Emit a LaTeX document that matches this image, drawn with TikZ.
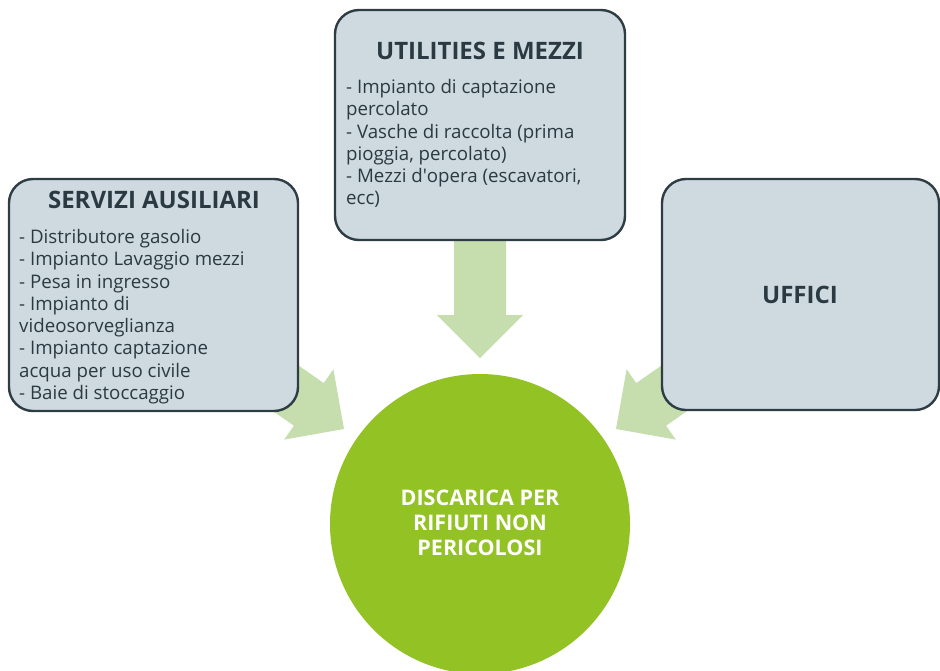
\documentclass[tikz,border=0pt]{standalone}
\usepackage{fontspec}
\setmainfont{Open Sans}
\definecolor{boxfill}{HTML}{CFDAE0}
\definecolor{boxline}{HTML}{2E3D44}
\definecolor{txt}{HTML}{2B3A42}
\definecolor{arrowgreen}{HTML}{C6DEAE}
\definecolor{circgreen}{HTML}{93C225}
\tikzset{
  infobox/.style={draw=boxline, fill=boxfill, line width=2.4pt, rounded corners=24pt},
  blockarrow/.style={fill=arrowgreen, draw=none},
  titletext/.style={font=\fontsize{24}{28}\selectfont\bfseries, text=txt, inner sep=0pt},
  bodytext/.style={font=\fontsize{18.7}{22.3}\selectfont, text=txt, inner sep=0pt, align=left, anchor=north west},
}
\begin{document}
\begin{tikzpicture}[x=1pt,y=-1pt]
\useasboundingbox (0,0) rectangle (940,670);
% arrows
\fill[blockarrow] (454,230) -- (506,230) -- (506,315) -- (523,315) -- (480,358) -- (437,315) -- (454,315) -- cycle;
\fill[blockarrow] (171,339.7) -- (293.9,425.7) -- (284.2,439.6) -- (344,429) -- (333.4,369.2) -- (323.7,383.1) -- (200.8,297.1) -- cycle;
\fill[blockarrow] (789,339.7) -- (666.1,425.7) -- (675.8,439.6) -- (616,429) -- (626.6,369.2) -- (636.3,383.1) -- (759.2,297.1) -- cycle;
% boxes
\draw[infobox] (9,179) rectangle (298,411);
\draw[infobox] (335,10) rectangle (625,240);
\draw[infobox] (662,179) rectangle (939,410);
% circle
\node[circle, fill=circgreen, minimum size=300pt, inner sep=0pt] (center) at (480,524) {};
\node[font=\fontsize{21.5}{25}\selectfont\bfseries, text=white, align=center] (ctext) at (480,523) {DISCARICA PER\\RIFIUTI NON\\PERICOLOSI};
% texts
\node[titletext] (t1) at (154,200) {SERVIZI AUSILIARI};
\node[bodytext] (b1) at (19,229) {- Distributore gasolio\\- Impianto Lavaggio mezzi\\- Pesa in ingresso\\- Impianto di\\videosorveglianza\\- Impianto captazione\\acqua per uso civile\\- Baie di stoccaggio};
\node[titletext] (t2) at (480,51) {UTILITIES E MEZZI};
\node[bodytext] (b2) at (346,79) {- Impianto di captazione\\percolato\\- Vasche di raccolta (prima\\pioggia, percolato)\\- Mezzi d\textquotesingle opera (escavatori,\\ecc)};
\node[titletext] (t3) at (800,295) {UFFICI};
\end{tikzpicture}
\end{document}
